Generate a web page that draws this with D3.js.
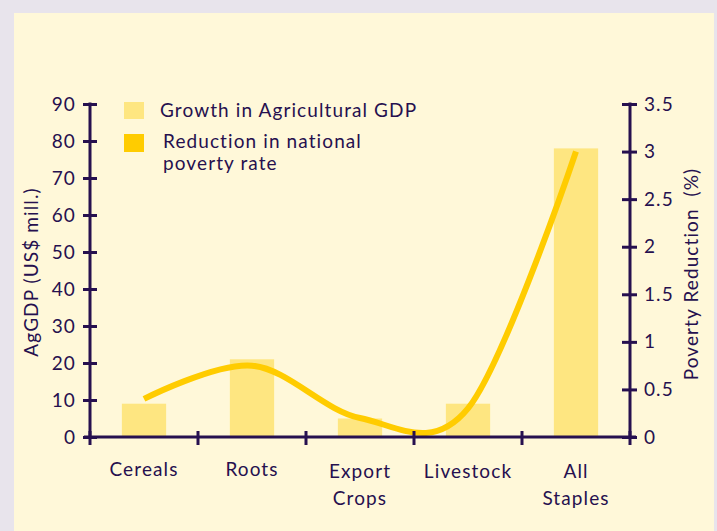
<!DOCTYPE html>
<html>
<head>
<meta charset="utf-8">
<script src="https://cdn.jsdelivr.net/npm/d3@7.9.0/dist/d3.min.js"></script>
<style>
  body { margin: 0; background: #e8e4ec; }
  svg { display: block; }
  text { font-family: Lato, "Open Sans", sans-serif; fill: #26104f; letter-spacing: 1.1px; }
</style>
</head>
<body>
<svg id="chart" width="717" height="531"></svg>
<script>
const categories = [['Cereals'], ['Roots'], ['Export', 'Crops'], ['Livestock'], ['All', 'Staples']];
const agGDP = [9, 21, 5, 9, 78];
const povertyReduction = [0.4, 0.75, 0.2, 0.3, 3.0];
const leftTicks = [0, 10, 20, 30, 40, 50, 60, 70, 80, 90];
const rightTicks = [0, 0.5, 1, 1.5, 2, 2.5, 3, 3.5];

const ink = '#26104f';
const svg = d3.select('#chart');

svg.append('rect')
  .attr('x', 14).attr('y', 13)
  .attr('width', 700).attr('height', 518)
  .attr('fill', '#fff8d9');

const x = d3.scaleBand()
  .domain(d3.range(categories.length))
  .range([90, 630])
  .paddingInner(0.59)
  .paddingOuter(0.295);

const yL = d3.scaleLinear().domain([0, 90]).range([437, 104]);
const yR = d3.scaleLinear().domain([0, 3.5]).range([437, 104]);

// bars
svg.selectAll('rect.bar')
  .data(agGDP)
  .enter()
  .append('rect')
  .attr('class', 'bar')
  .attr('x', (d, i) => x(i))
  .attr('width', x.bandwidth())
  .attr('y', d => yL(d))
  .attr('height', d => yL(0) - yL(d))
  .attr('fill', '#fee681');

// poverty line
const line = d3.line()
  .x((d, i) => x(i) + x.bandwidth() / 2)
  .y(d => yR(d))
  .curve(d3.curveCardinal.tension(0));

svg.append('path')
  .datum(povertyReduction)
  .attr('d', line)
  .attr('fill', 'none')
  .attr('stroke', '#ffcc00')
  .attr('stroke-width', 6);

// axes
function styleAxis(g) {
  g.select('.domain').remove();
  g.selectAll('.tick line').attr('stroke', ink).attr('stroke-width', 3);
  g.selectAll('.tick text').style('font-size', '19px').attr('fill', ink);
}

const left = svg.append('g')
  .attr('transform', 'translate(90,0)')
  .call(d3.axisLeft(yL).tickValues(leftTicks).tickSize(7).tickPadding(7))
  .call(styleAxis);
left.selectAll('.tick line').attr('x1', 7);
left.append('line')
  .attr('x1', 0).attr('x2', 0)
  .attr('y1', yL(90) - 1.5).attr('y2', yL(0) + 2)
  .attr('stroke', ink).attr('stroke-width', 3);

const right = svg.append('g')
  .attr('transform', 'translate(630,0)')
  .call(d3.axisRight(yR).tickValues(rightTicks).tickFormat(d3.format('')).tickSize(7).tickPadding(7))
  .call(styleAxis);
right.selectAll('.tick line').attr('x1', -8);
right.append('line')
  .attr('x1', 0).attr('x2', 0)
  .attr('y1', yR(3.5) - 1.5).attr('y2', yR(0) + 2)
  .attr('stroke', ink).attr('stroke-width', 3);

// x axis: boundary ticks
const bounds = d3.range(categories.length + 1).map(i => i < categories.length ? x(i) - x.step() * x.paddingInner() / 2 : 630);
svg.append('line')
  .attr('x1', 84).attr('x2', 636)
  .attr('y1', yL(0)).attr('y2', yL(0))
  .attr('stroke', ink).attr('stroke-width', 3);
svg.selectAll('line.xtick')
  .data(bounds)
  .enter()
  .append('line')
  .attr('class', 'xtick')
  .attr('x1', d => d).attr('x2', d => d)
  .attr('y1', yL(0) - 6).attr('y2', yL(0) + 8)
  .attr('stroke', ink).attr('stroke-width', 3);

// category labels
const xl = svg.selectAll('text.cat')
  .data(categories)
  .enter()
  .append('text')
  .attr('class', 'cat')
  .attr('x', (d, i) => x(i) + x.bandwidth() / 2)
  .attr('y', (d, i) => d.length > 1 || i === 3 ? 478 : 476)
  .attr('text-anchor', 'middle')
  .style('font-size', '19px');
xl.selectAll('tspan')
  .data(d => d)
  .enter()
  .append('tspan')
  .attr('x', function () { return this.parentNode.getAttribute('x'); })
  .attr('dy', (d, j) => j === 0 ? 0 : 27)
  .text(d => d);

// axis titles
svg.append('text')
  .attr('transform', 'translate(38,272) rotate(-90)')
  .attr('text-anchor', 'middle')
  .style('font-size', '19px')
  .text('AgGDP (US$ mill.)');

svg.append('text')
  .attr('transform', 'translate(698,274) rotate(-90)')
  .attr('text-anchor', 'middle')
  .style('font-size', '19px')
  .attr('xml:space', 'preserve')
  .style('white-space', 'pre')
  .text('Poverty Reduction  (%)');

// legend
const legend = svg.append('g');
legend.append('rect').attr('x', 124).attr('y', 102).attr('width', 20).attr('height', 17).attr('fill', '#fee681');
legend.append('rect').attr('x', 124).attr('y', 134).attr('width', 20).attr('height', 18).attr('fill', '#ffcc00');
legend.append('text').attr('x', 160).attr('y', 117).style('font-size', '19px').text('Growth in Agricultural GDP');
const lt = legend.append('text').attr('x', 163).attr('y', 148).style('font-size', '19px');
lt.append('tspan').attr('x', 163).text('Reduction in national');
lt.append('tspan').attr('x', 163).attr('dy', 22).text('poverty rate');
</script>
</body>
</html>
